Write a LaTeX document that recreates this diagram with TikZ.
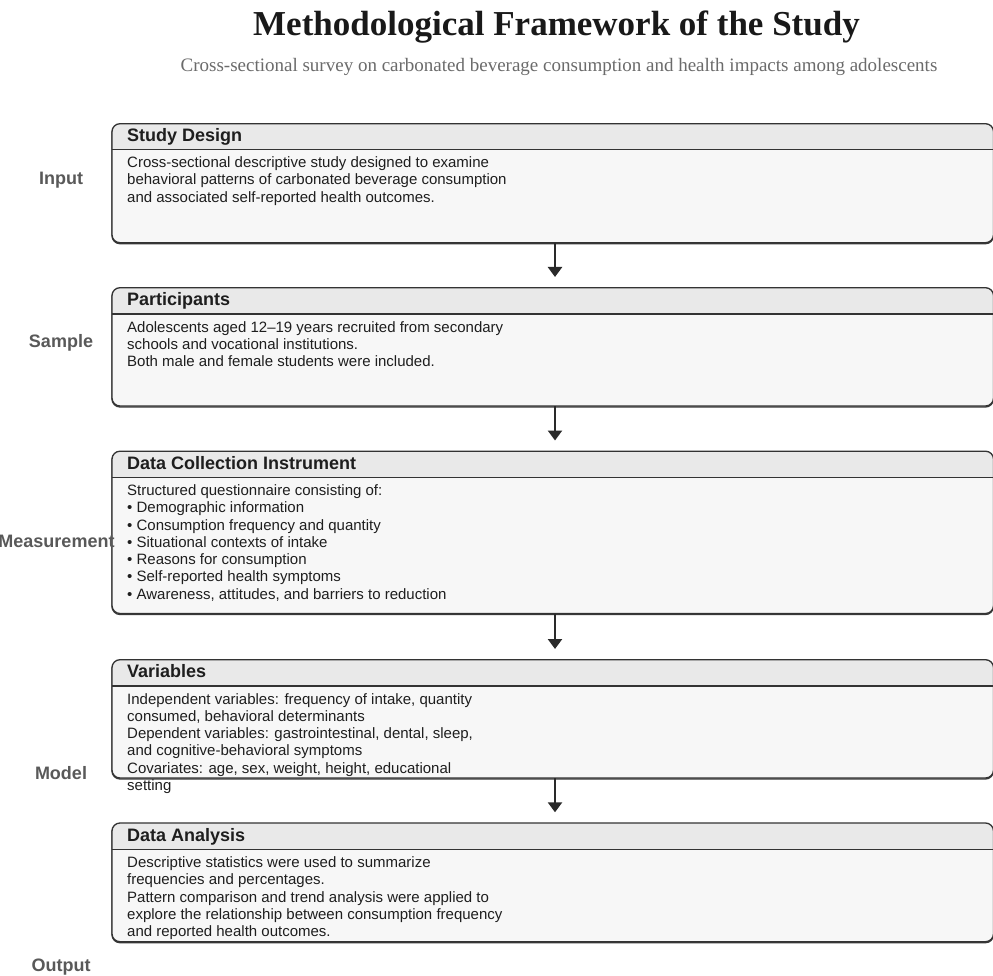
\documentclass[tikz,border=0pt]{standalone}
\usepackage{fontspec}
\setmainfont{Liberation Serif}
\setsansfont{Liberation Sans}
\usetikzlibrary{arrows.meta}
\definecolor{bordc}{HTML}{333333}
\definecolor{shadc}{HTML}{3A3A3A}
\definecolor{headc}{HTML}{E9E9E9}
\definecolor{bodyc}{HTML}{F7F7F7}
\definecolor{labc}{HTML}{595959}
\definecolor{txtc}{HTML}{1E1E1E}
\definecolor{subc}{HTML}{6B6B6B}
\definecolor{arrc}{HTML}{2A2A2A}
\tikzset{
 boxshape/.style={rectangle, rounded corners=8pt, fill=bodyc, inner sep=0pt, outer sep=0pt, minimum width=881.5pt, anchor=north west},
 hdrtext/.style={anchor=base west, inner sep=0pt, text=txtc, font=\sffamily\bfseries\fontsize{18}{20}\selectfont},
 bodytext/.style={anchor=north west, inner sep=0pt, align=left, text=txtc, font=\sffamily\fontsize{15}{17.25}\selectfont},
 sidelabel/.style={anchor=base, inner sep=0pt, text=labc, font=\sffamily\bfseries\fontsize{18}{20}\selectfont},
 flowarrow/.style={draw=arrc, line width=2.4pt, -{Triangle[length=10pt,width=14pt]}, shorten >=10.7pt},
 borderline/.style={draw=bordc, line width=1.3pt},
}
\newcommand{\stagebox}[6]{%
 \node[boxshape, minimum height={#4-#2}] (#1) at (112,#2) {};
 \coordinate (#1h) at (112,#3);
 \draw[draw=shadc, line width=1.3pt, rounded corners=8pt] ([yshift=-1pt]#1.north west) rectangle ([yshift=-1pt]#1.south east);
 \begin{scope}
  \clip[rounded corners=8pt] (#1.north west) rectangle (#1.south east);
  \fill[bodyc] (#1.north west) rectangle (#1.south east);
  \fill[headc] (#1.north west) rectangle (#1h -| #1.east);
 \end{scope}
 \draw[borderline] (#1h) -- (#1h -| #1.east);
 \draw[borderline, rounded corners=8pt] (#1.north west) rectangle (#1.south east);
 \node[hdrtext] (#1t) at (127,{#2+18}) {#5};
 \node[bodytext] (#1b) at (127,{#3+18-12.075}) {\strut #6};
}
\begin{document}
\begin{tikzpicture}[x=1pt,y=-1pt]
\useasboundingbox (0,0) rectangle (993,976);
\clip (0,0) rectangle (993,976);
\fill[white] (0,0) rectangle (993,976);

\node[anchor=base, inner sep=0pt, text={black!90}, font=\bfseries\fontsize{35}{40}\selectfont] (title) at (556.5,36) {Methodological Framework of the Study};
\node[anchor=base, inner sep=0pt, text=subc, font=\fontsize{19}{22}\selectfont] (subtitle) at (559,72) {Cross-sectional survey on carbonated beverage consumption and health impacts among adolescents};

\stagebox{b1}{123.7}{149.5}{242.7}{Study Design}{Cross-sectional descriptive study designed to examine\\behavioral patterns of carbonated beverage consumption\\and associated self-reported health outcomes.}
\stagebox{b2}{287.7}{314}{406}{Participants}{Adolescents aged 12–19 years recruited from secondary\\schools and vocational institutions.\\Both male and female students were included.}
\stagebox{b3}{451.2}{477.3}{613.5}{Data Collection Instrument}{Structured questionnaire consisting of:\\• Demographic information\\• Consumption frequency and quantity\\• Situational contexts of intake\\• Reasons for consumption\\• Self-reported health symptoms\\• Awareness, attitudes, and barriers to reduction}
\stagebox{b4}{659.7}{686}{778}{Variables}{Independent variables: frequency of intake, quantity\\consumed, behavioral determinants\\Dependent variables: gastrointestinal, dental, sleep,\\and cognitive-behavioral symptoms\\Covariates: age, sex, weight, height, educational\\setting}
\stagebox{b5}{823}{849.3}{941.7}{Data Analysis}{Descriptive statistics were used to summarize\\frequencies and percentages.\\Pattern comparison and trend analysis were applied to\\explore the relationship between consumption frequency\\and reported health outcomes.}

\draw[flowarrow] ([xshift=2.25pt]b1.south) -- ([xshift=2.25pt]b2.north);
\draw[flowarrow] ([xshift=2.25pt]b2.south) -- ([xshift=2.25pt]b3.north);
\draw[flowarrow] ([xshift=2.25pt]b3.south) -- ([xshift=2.25pt]b4.north);
\draw[flowarrow] ([xshift=2.25pt]b4.south) -- ([xshift=2.25pt]b5.north);

\node[sidelabel] (l1) at (61,184.3) {Input};
\node[sidelabel] (l2) at (61,347.3) {Sample};
\node[sidelabel] (l3) at (56.5,547.3) {Measurement};
\node[sidelabel] (l4) at (61,779) {Model};
\node[sidelabel] (l5) at (61,971.7) {Output};
\end{tikzpicture}
\end{document}
